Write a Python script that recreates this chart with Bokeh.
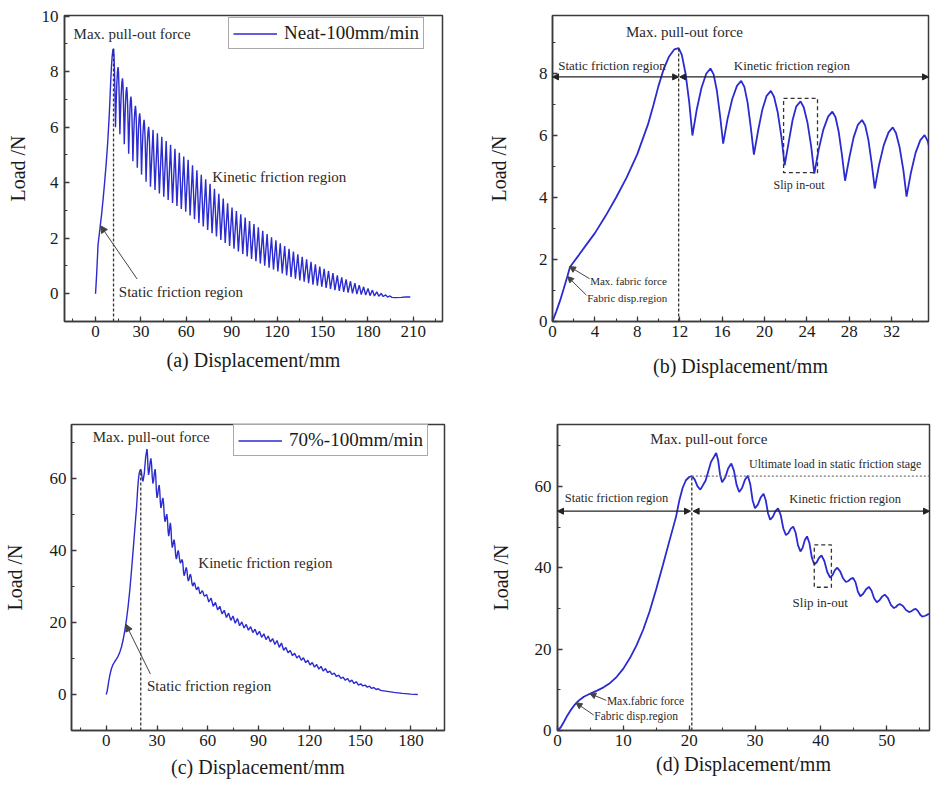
from bokeh.plotting import figure
from bokeh.layouts import row, column
from bokeh.models import (Range1d, SingleIntervalTicker, Label, Arrow, NormalHead,
                          BoxAnnotation, Legend, LegendItem)
from bokeh.embed import file_html
from bokeh.resources import INLINE

FONT = "Liberation Serif"
BLUE = "#2b2bd0"
INK = "#1a1a1a"
NOTE = "#2a2a2a"
FRAME = "#3a3a3a"

# ---------------- Neat-100mm/min (panels a, b) ----------------
neat_rise_x = [0, 0.35, 0.72, 1.05, 1.4, 1.65, 2.0, 2.5, 3.2, 4.0, 5.0, 6.0, 7.0, 8.0,
               9.0, 9.5, 10.0, 10.5, 11.0, 11.5, 11.9]
neat_rise_y = [0, 0.32, 0.68, 1.05, 1.45, 1.76, 1.92, 2.15, 2.48, 2.85, 3.40, 4.00, 4.65, 5.40,
               6.35, 6.95, 7.60, 8.15, 8.55, 8.78, 8.82]

neat_arch_x = [12.2, 12.55, 12.9, 13.2,
               13.6, 14.05, 14.5, 14.9, 15.2, 15.5, 15.8, 16.1,
               16.5, 16.95, 17.4, 17.8, 18.1, 18.4, 18.7, 19.0,
               19.4, 19.8, 20.2, 20.6, 20.9, 21.25, 21.6, 21.9,
               22.3, 22.65, 23.0, 23.4, 23.7, 24.05, 24.4, 24.7,
               25.1, 25.55, 26.0, 26.4, 26.7, 27.0, 27.3, 27.6,
               28.0, 28.4, 28.8, 29.2, 29.5, 29.8, 30.1, 30.4,
               30.8, 31.25, 31.7, 32.1, 32.4, 32.75, 33.1, 33.4,
               33.8, 34.25, 34.7, 35.1, 35.4, 35.7, 36.0, 36.3]
neat_arch_y = [8.60, 8.00, 7.07, 6.00,
               6.82, 7.53, 7.99, 8.16, 7.97, 7.46, 6.66, 5.74,
               6.51, 7.17, 7.60, 7.76, 7.57, 7.07, 6.28, 5.38,
               6.16, 6.84, 7.28, 7.44, 7.25, 6.74, 5.95, 5.04,
               5.82, 6.50, 6.94, 7.10, 6.91, 6.42, 5.66, 4.77,
               5.53, 6.19, 6.61, 6.77, 6.59, 6.12, 5.39, 4.54,
               5.28, 5.93, 6.34, 6.50, 6.32, 5.86, 5.13, 4.29,
               5.04, 5.69, 6.10, 6.26, 6.08, 5.61, 4.88, 4.03,
               4.78, 5.44, 5.85, 6.01, 5.82, 5.38, 4.67, 3.85]

neat_peak_x = [38.0, 40.9, 43.8, 46.7, 49.6, 52.5, 55.4, 58.3, 61.2, 64.1,
               67.0, 69.9, 72.8, 75.7, 78.6, 81.5, 84.4, 87.3, 90.2, 93.1,
               96.0, 98.9, 101.8, 104.7, 107.6, 110.5, 113.4, 116.3, 119.2, 122.1,
               125.0, 127.9, 130.8, 133.7, 136.6, 139.5, 142.4, 145.3, 148.2, 151.1,
               154.0, 156.9, 159.8, 162.7, 165.6, 168.5, 171.4, 174.3, 177.2, 180.1,
               183.0, 185.9, 188.8, 191.7, 194.6]
neat_peak_y = [5.90, 5.78, 5.65, 5.50, 5.36, 5.22, 5.08, 4.94, 4.82, 4.63,
               4.45, 4.28, 4.12, 3.96, 3.78, 3.60, 3.43, 3.26, 3.10, 2.98,
               2.86, 2.74, 2.62, 2.51, 2.39, 2.27, 2.15, 2.03, 1.92, 1.82,
               1.72, 1.62, 1.52, 1.42, 1.33, 1.24, 1.15, 1.06, 0.98, 0.90,
               0.82, 0.74, 0.66, 0.59, 0.52, 0.45, 0.38, 0.31, 0.25, 0.19,
               0.13, 0.07, 0.01, -0.04, -0.08]
neat_min_x = [39.3, 42.2, 45.1, 48.0, 50.9, 53.8, 56.7, 59.6, 62.5, 65.4,
              68.3, 71.2, 74.1, 77.0, 79.9, 82.8, 85.7, 88.6, 91.5, 94.4,
              97.3, 100.2, 103.1, 106.0, 108.9, 111.8, 114.7, 117.6, 120.5, 123.4,
              126.3, 129.2, 132.1, 135.0, 137.9, 140.8, 143.7, 146.6, 149.5, 152.4,
              155.3, 158.2, 161.1, 164.0, 166.9, 169.8, 172.7, 175.6, 178.5, 181.4,
              184.3, 187.2, 190.1, 193.0, 195.9]
neat_min_y = [3.74, 3.61, 3.49, 3.38, 3.27, 3.16, 3.05, 2.95, 2.82, 2.68,
              2.55, 2.42, 2.30, 2.18, 2.06, 1.94, 1.83, 1.72, 1.62, 1.52,
              1.43, 1.34, 1.25, 1.17, 1.09, 1.01, 0.94, 0.87, 0.80, 0.73,
              0.66, 0.60, 0.54, 0.48, 0.43, 0.38, 0.33, 0.29, 0.25, 0.21,
              0.17, 0.13, 0.10, 0.07, 0.04, 0.01, -0.01, -0.03, -0.05, -0.07,
              -0.08, -0.09, -0.10, -0.12, -0.13]
neat_end_x = [198.0, 202.0, 205.0, 208.0]
neat_end_y = [-0.14, -0.13, -0.12, -0.12]

# ---------------- 70%-100mm/min (panels c, d) ----------------
s70_rise_x = [0, 0.5, 1.0, 1.5, 2.0, 2.5, 3.0, 3.5, 4.0, 5.0, 6.0, 7.0, 8.0, 9.0, 10.0,
              11.0, 12.0, 13.0, 14.0, 15.0, 16.0, 17.0, 18.0, 18.5, 19.0, 19.5, 20.0, 20.4]
s70_rise_y = [0, 0.8, 2.2, 3.7, 5.0, 6.1, 7.0, 7.7, 8.3, 9.1, 9.8, 10.6, 11.7, 13.2, 15.2,
              17.8, 20.9, 24.7, 29.3, 34.8, 40.6, 46.6, 52.5, 56.5, 59.6, 61.5, 62.3, 62.5]

s70_wave_x = [20.83, 21.27, 21.7, 22.5, 23.3, 24.1, 24.4, 24.7, 25.0, 25.47, 25.93, 26.4,
              26.8, 27.2, 27.6, 28.03, 28.47, 28.9, 29.27, 29.63, 30.0, 30.43, 30.87, 31.3,
              31.63, 31.97, 32.3, 32.7, 33.1, 33.5, 33.9, 34.3, 34.7, 35.07, 35.43, 35.8,
              36.17, 36.53, 36.9, 37.23, 37.57, 37.9, 38.27, 38.63, 39.0, 39.37, 39.73, 40.1,
              40.53, 40.97, 41.4, 41.77, 42.13, 42.5, 42.93, 43.37, 43.8, 44.17, 44.53, 44.9,
              45.27, 45.63, 46.0, 46.43, 46.87, 47.3, 47.7, 48.1, 48.5, 48.9, 49.3, 49.7,
              50.17, 50.63, 51.1, 51.4, 51.7, 52.0, 52.47, 52.93, 53.4, 53.73, 54.07, 54.4,
              54.73, 55.07, 55.4, 55.87, 56.33, 56.8, 57.2, 57.6, 58.0]
s70_wave_y = [61.7, 60.0, 59.2, 61.45, 65.95, 68.2, 66.4, 62.8, 61.0, 62.15, 64.45, 65.6,
              63.85, 60.35, 58.6, 59.6, 61.6, 62.6, 60.6, 56.6, 54.6, 55.5, 57.3, 58.2,
              56.6, 53.4, 51.8, 52.5, 53.9, 54.6, 52.95, 49.65, 48.0, 48.5, 49.6, 50.1,
              48.6, 45.5, 44.0, 44.9, 46.8, 47.7, 46.0, 42.5, 40.8, 41.35, 42.45, 43.0,
              41.65, 38.95, 37.6, 38.2, 39.4, 40.0, 39.1, 37.4, 36.5, 36.75, 37.25, 37.5,
              36.4, 34.1, 33.0, 33.6, 34.7, 35.3, 34.35, 32.45, 31.5, 32.0, 32.9, 33.4,
              32.6, 30.9, 30.1, 30.35, 30.85, 31.1, 30.6, 29.6, 29.1, 29.3, 29.7, 29.9,
              29.4, 28.5, 28.0, 28.2, 28.6, 28.8, 28.4, 27.7, 27.3]

s70_tail_x = [59.3, 60.6, 61.9, 63.2, 64.5, 65.8, 67.1, 68.4, 69.7, 71.0, 72.3, 73.6,
              74.9, 76.2, 77.5, 78.8, 80.1, 81.4, 82.7, 84.0, 85.3, 86.6, 87.9, 89.2,
              90.5, 91.8, 93.1, 94.4, 95.7, 97.0, 98.3, 99.6, 100.9, 102.2, 103.5, 104.8,
              106.1, 107.4, 108.7, 110.0, 111.3, 112.6, 113.9, 115.2, 116.5, 117.8, 119.1, 120.4,
              121.7, 123.0, 124.3, 125.6, 126.9, 128.2, 129.5, 130.8, 132.1, 133.4, 134.7, 136.0,
              137.3, 138.6, 139.9, 141.2, 142.5, 143.8, 145.1, 146.4, 147.7, 149.0, 150.3, 151.6,
              152.9, 154.2, 155.5, 156.8, 158.1, 159.4, 160.7, 162.0, 165.0, 170.0, 175.0, 180.0,
              184.0]
s70_tail_y = [27.8, 25.7, 26.8, 24.5, 25.6, 23.5, 24.5, 22.4, 23.4, 21.4, 22.6, 20.6,
              21.8, 19.8, 21.1, 19.1, 20.15, 18.5, 19.45, 17.85, 18.85, 17.2, 18.15, 16.55,
              17.55, 15.9, 16.85, 15.25, 16.25, 14.6, 15.55, 13.9, 15.0, 13.1, 14.3, 12.3,
              13.05, 11.6, 12.2, 10.8, 11.45, 10.15, 10.8, 9.5, 10.2, 8.85, 9.5, 8.2,
              8.9, 7.6, 8.35, 7.05, 7.8, 6.5, 7.2, 6.1, 6.5, 5.55, 5.95, 5.0,
              5.4, 4.45, 4.85, 3.95, 4.45, 3.5, 4.0, 3.05, 3.55, 2.6, 2.95, 2.4,
              2.6, 2.05, 2.3, 1.7, 1.95, 1.4, 1.6, 1.15, 0.95, 0.6, 0.3, 0.1,
              0.0]


def interleave(ax, ay, bx, by):
    xs, ys = [], []
    for a1, a2, b1, b2 in zip(ax, ay, bx, by):
        xs += [a1, b1]
        ys += [a2, b2]
    return xs, ys


_tx, _ty = interleave(neat_peak_x, neat_peak_y, neat_min_x, neat_min_y)
neat_x = neat_rise_x + neat_arch_x + _tx + neat_end_x
neat_y = neat_rise_y + neat_arch_y + _ty + neat_end_y
s70_x = s70_rise_x + s70_wave_x + s70_tail_x
s70_y = s70_rise_y + s70_wave_y + s70_tail_y

# characteristic points derived from the data
_imax = max(range(len(neat_y)), key=lambda i: neat_y[i])
neat_pk = (neat_x[_imax], neat_y[_imax])
s70_static = (s70_rise_x[-1], s70_rise_y[-1])


def make_panel(width, height, xr, yr, borders, xtick, ytick, xlabel,
               ylab_std, xlab_std, ytl_std=5, xtl_std=4):
    bl, br, bt, bb = borders
    p = figure(width=width, height=height, x_range=Range1d(*xr), y_range=Range1d(*yr),
               output_backend="svg", toolbar_location=None,
               min_border_left=bl, min_border_right=br, min_border_top=bt, min_border_bottom=bb,
               background_fill_color="white", border_fill_color="white")
    p.grid.visible = False
    p.outline_line_color = FRAME
    p.outline_line_width = 1.5
    p.outline_line_alpha = 1.0
    p.xaxis.ticker = SingleIntervalTicker(interval=xtick, num_minor_ticks=2)
    p.yaxis.ticker = SingleIntervalTicker(interval=ytick, num_minor_ticks=2)
    for ax in (p.xaxis[0], p.yaxis[0]):
        ax.axis_line_color = FRAME
        ax.axis_line_width = 1.5
        ax.major_tick_in = 5
        ax.major_tick_out = 0
        ax.minor_tick_in = 3
        ax.minor_tick_out = 0
        ax.major_tick_line_color = FRAME
        ax.major_tick_line_width = 1.3
        ax.minor_tick_line_color = FRAME
        ax.minor_tick_line_width = 1.1
        ax.major_label_text_font = FONT
        ax.major_label_text_font_size = "17px"
        ax.major_label_text_color = INK
        ax.axis_label_text_font = FONT
        ax.axis_label_text_font_size = "20px"
        ax.axis_label_text_font_style = "normal"
        ax.axis_label_text_color = INK
    p.xaxis.axis_label = xlabel
    p.yaxis.axis_label = "Load /N"
    p.yaxis.axis_label_standoff = ylab_std
    p.xaxis.axis_label_standoff = xlab_std
    p.yaxis.major_label_standoff = ytl_std
    p.xaxis.major_label_standoff = xtl_std
    return p


def note(p, x, y, text, size, align="left"):
    p.add_layout(Label(x=x, y=y, text=text, text_font=FONT, text_font_size=size,
                       text_color=NOTE, text_baseline="middle", text_align=align))


def pointer(p, x0, y0, x1, y1, color="#444444", width=1.0, size=7, both=False):
    head = NormalHead(size=size, fill_color=color, line_color=color)
    kw = dict(end=head, x_start=x0, y_start=y0, x_end=x1, y_end=y1,
              line_color=color, line_width=width)
    if both:
        kw["start"] = NormalHead(size=size, fill_color=color, line_color=color)
    p.add_layout(Arrow(**kw))


def legend(p, r, text, loc):
    lg = Legend(items=[LegendItem(label=text, renderers=[r])], location=loc,
                label_text_font=FONT, label_text_font_size="19px", label_text_color=INK,
                border_line_color="#555555", border_line_width=1.2, padding=4, spacing=0,
                margin=0, glyph_width=44, glyph_height=17, label_height=17, label_standoff=7,
                background_fill_alpha=1.0)
    p.add_layout(lg)


def slip_box(p, l, r, b, t):
    p.add_layout(BoxAnnotation(left=l, right=r, bottom=b, top=t, fill_alpha=0,
                               line_color="#333333", line_alpha=1.0, line_width=1.3,
                               line_dash="4 3"))


# ---------------- (a) ----------------
pa = make_panel(460, 394, (-20.5, 229.3), (-1, 10.02), (64, 18, 15, 73), 30, 2,
                "(a) Displacement/mm", ylab_std=10, xlab_std=9, ytl_std=6)
ra = pa.line(neat_x, neat_y, line_color=BLUE, line_width=1.4)
pa.segment(x0=[neat_pk[0]], y0=[-1], x1=[neat_pk[0]], y1=[neat_pk[1]],
           line_color="#333333", line_width=1.3, line_dash="3 2")
legend(pa, ra, "Neat-100mm/min", (164, 272))
note(pa, -14.5, 9.34, "Max. pull-out force", "15px")
note(pa, 77.1, 4.21, "Kinetic friction region", "15px")
note(pa, 15.4, 0.05, "Static friction region", "15px")
pointer(pa, 27.5, 0.53, 3.3, 2.45)

# ---------------- (b) ----------------
pb = make_panel(472, 394, (0, 35.47), (0, 9.87), (92, 4, 15, 73), 4, 2,
                "(b) Displacement/mm", ylab_std=26, xlab_std=15)
pb.line(neat_x, neat_y, line_color=BLUE, line_width=1.8)
pb.segment(x0=[neat_pk[0]], y0=[0], x1=[neat_pk[0]], y1=[neat_pk[1]],
           line_color="#333333", line_width=1.3, line_dash="3 2")
note(pb, 12.45, 9.33, "Max. pull-out force", "15px", align="center")
note(pb, 0.54, 8.26, "Static friction region", "13px")
note(pb, 17.1, 8.26, "Kinetic friction region", "13px")
pointer(pb, 0, 7.89, neat_pk[0], 7.89, color="#222222", width=1.3, size=6, both=True)
pointer(pb, neat_pk[0] + 0.1, 7.89, 35.47, 7.89, color="#222222", width=1.3, size=6, both=True)
slip_box(pb, 21.8, 25.0, 4.8, 7.2)
note(pb, 20.85, 4.39, "Slip in-out", "12px")
note(pb, 3.55, 1.32, "Max. fabric force", "11px")
note(pb, 3.27, 0.76, "Fabric disp.region", "11px")
pointer(pb, 3.5, 1.38, 1.6, 1.77, size=6)
pointer(pb, 3.2, 0.85, 1.42, 1.45, size=6)

# ---------------- (c) ----------------
pc = make_panel(460, 396, (-20.5, 199.8), (-10, 75), (67, 16, 30, 60), 30, 20,
                "(c) Displacement/mm", ylab_std=21, xlab_std=7)
rc = pc.line(s70_x, s70_y, line_color=BLUE, line_width=1.4)
pc.segment(x0=[s70_static[0]], y0=[-10], x1=[s70_static[0]], y1=[s70_static[1]],
           line_color="#333333", line_width=1.3, line_dash="3 2")
legend(pc, rc, "70%-100mm/min", (162, 274))
note(pc, -8.0, 71.5, "Max. pull-out force", "15px")
note(pc, 54.4, 36.6, "Kinetic friction region", "15px")
note(pc, 24.1, 2.3, "Static friction region", "15px")
pointer(pc, 26.1, 5.7, 11.6, 19.5)

# ---------------- (d) ----------------
pd = make_panel(472, 396, (0, 56.5), (0, 75.2), (97, 3, 30, 60), 10, 20,
                "(d) Displacement/mm", ylab_std=20, xlab_std=4, ytl_std=6, xtl_std=4)
pd.line(s70_x, s70_y, line_color=BLUE, line_width=1.8)
pd.segment(x0=[s70_static[0]], y0=[0], x1=[s70_static[0]], y1=[s70_static[1]],
           line_color="#333333", line_width=1.3, line_dash="3 2")
pd.segment(x0=[s70_static[0]], y0=[s70_static[1]], x1=[56.5], y1=[s70_static[1]],
           line_color="#777777", line_width=1.2, line_dash="2 2")
note(pd, 14.1, 71.6, "Max. pull-out force", "15px")
note(pd, 29.1, 65.4, "Ultimate load in static friction stage", "12px")
note(pd, 1.1, 57.2, "Static friction region", "12.5px")
note(pd, 35.2, 56.9, "Kinetic friction region", "12.5px")
pointer(pd, 0, 53.9, s70_static[0] - 0.2, 53.9, color="#222222", width=1.3, size=6, both=True)
pointer(pd, s70_static[0] + 0.2, 53.9, 56.5, 53.9, color="#222222", width=1.3, size=6, both=True)
slip_box(pd, 39.0, 41.6, 35.2, 45.6)
note(pd, 35.7, 31.5, "Slip in-out", "13px")
note(pd, 7.5, 7.3, "Max.fabric force", "11.5px")
note(pd, 5.6, 3.5, "Fabric disp.region", "11.5px")
pointer(pd, 7.4, 7.4, 4.9, 9.1, size=6)
pointer(pd, 5.5, 3.8, 2.8, 6.8, size=6)

layout = column(row(pa, pb), row(pc, pd))
open("out.html", "w").write(file_html(layout, INLINE))
